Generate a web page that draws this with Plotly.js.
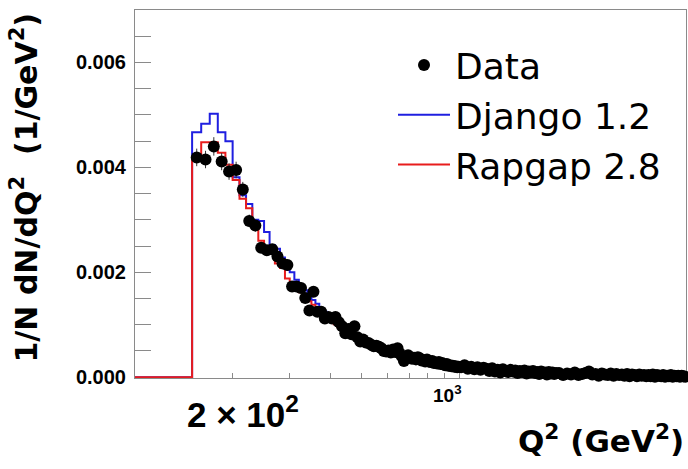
<!DOCTYPE html>
<html>
<head>
<meta charset="utf-8">
<script src="https://cdn.plot.ly/plotly-3.0.1.min.js"></script>
<style>html,body{margin:0;padding:0;background:#fff;}#chart{width:688px;height:469px;}</style>
</head>
<body>
<div id="chart"></div>
<script>
// Data: bin centres (Q^2, GeV^2) and values of 1/N dN/dQ^2 in units of 1e-3 GeV^-2
const dataQ = [155,165,175,185,195,205,215,225,235,245,255,265,275,285,295,305,315,325,335,345,355,365,375,385,395,405,415,425,435,445,455,465,475,485,495,505,515,525,535,545,555,565,575,585,595,605,615,625,635,645,655,665,675,685,695,705,715,725,735,745,755,765,775,785,795,805,815,825,835,845,855,865,875,885,895,905,915,925,935,945,955,965,975,985,995,
1012.5,1037.5,1062.5,1087.5,1112.5,1137.5,1162.5,1187.5,1212.5,1237.5,1262.5,1287.5,1312.5,1337.5,1362.5,1387.5,1412.5,1437.5,1462.5,1487.5,1512.5,1537.5,1562.5,1587.5,1612.5,1637.5,1662.5,1687.5,1712.5,1737.5,1762.5,1787.5,1812.5,1837.5,1862.5,1887.5,1912.5,1937.5,1962.5,1987.5,
2030,2090,2150,2210,2270,2330,2390,2450,2510,2570,2630,2690,2750,2810,2870,2930,2990,3050,3110,3170,3230,3290,3350,3410,3470,3530,3590,3650,3710,3770,3830,3890,3950,4010,4070,4130,4190,4250,4310,4370,4430,4490,4550,4610,4670,4730,4790,4850,4910,4970];
const dataVal = [4.19,4.15,4.40,4.11,3.92,3.95,3.58,2.98,2.89,2.47,2.42,2.44,2.30,2.17,2.14,1.73,1.73,1.70,1.51,1.27,1.63,1.25,1.25,1.12,1.15,1.12,1.15,1.05,0.97,0.84,0.92,0.82,0.97,0.76,0.68,0.72,0.66,0.65,0.62,0.59,0.60,0.58,0.55,0.50,0.49,0.51,0.47,0.53,0.48,0.55,0.45,0.40,0.31,0.37,0.42,0.38,0.35,0.37,0.34,0.38,0.36,0.32,0.33,0.30,0.34,0.30,0.29,0.31,0.27,0.28,0.26,0.29,0.25,0.27,0.24,0.23,0.25,0.22,0.23,0.21,0.22,0.20,0.21,0.19,0.20,
0.19,0.23,0.16,0.20,0.15,0.19,0.14,0.18,0.16,0.12,0.17,0.11,0.14,0.09,0.15,0.12,0.10,0.14,0.11,0.13,0.08,0.12,0.10,0.13,0.07,0.11,0.09,0.12,0.08,0.10,0.06,0.11,0.08,0.09,0.05,0.10,0.07,0.09,0.06,0.08,
0.08,0.04,0.07,0.05,0.09,0.04,0.06,0.08,0.11,0.05,0.06,0.03,0.07,0.05,0.04,0.07,0.03,0.06,0.04,0.05,0.03,0.06,0.02,0.05,0.04,0.02,0.05,0.03,0.04,0.02,0.04,0.02,0.05,0.01,0.04,0.03,0.02,0.04,0.01,0.03,0.02,0.04,0.01,0.03,0.02,0.03,0.01,0.03,0.02,0.01];

// Model histograms: lower bin edges (GeV^2), histogram range 100..5000
const histLow = 100, histHigh = 5000;
const modelEdges = [150,160,170,180,190,200,210,220,230,240,250,260,270,280,290,300,310,320,330,340,350,360,370,380,390,400,410,420,430,440,450,460,470,480,490,500,510,520,530,540,550,560,570,580,590,
600,650,700,750,800,850,900,950,1000,1250,1500,1750,2000,2500,3000,3500,4000,4500];
const djangoVal = [4.67,4.83,5.02,4.67,4.50,3.81,3.47,3.30,3.00,2.98,2.77,2.52,2.45,2.28,2.05,2.00,1.86,1.76,1.66,1.56,1.47,1.40,1.32,1.25,1.18,1.12,1.06,1.01,0.96,0.91,0.87,0.83,0.79,0.76,0.72,0.69,0.66,0.64,0.61,0.59,0.56,0.54,0.52,0.50,0.48,
0.46,0.41,0.37,0.34,0.31,0.28,0.25,0.23,0.18,0.13,0.10,0.08,0.065,0.05,0.04,0.034,0.028,0.024];
const rapgapVal = [4.17,4.48,4.48,4.28,4.05,3.76,3.40,3.22,2.95,2.60,2.50,2.38,2.17,2.08,1.88,1.80,1.70,1.62,1.54,1.45,1.38,1.32,1.25,1.18,1.12,1.07,1.01,0.96,0.92,0.87,0.83,0.79,0.76,0.72,0.69,0.66,0.63,0.61,0.59,0.56,0.54,0.52,0.50,0.48,0.46,
0.44,0.40,0.36,0.33,0.30,0.27,0.25,0.23,0.17,0.125,0.095,0.075,0.06,0.047,0.038,0.032,0.027,0.023];

const seriesNames = ["Data", "Django 1.2", "Rapgap 2.8"];
const yTickVals = [0, 0.002, 0.004, 0.006];
const yTickText = ["0.000", "0.002", "0.004", "0.006"];
const xTickVals = [200,300,400,500,600,700,800,900,1000,2000,3000,4000];

const UNIT = 1e-3;
function stepX(edges){ return [histLow].concat(edges, [histHigh]); }
function stepY(vals){ const v = vals.map(a => a*UNIT); return [0].concat(v, [v[v.length-1]]); }

const traces = [
  {x: stepX(modelEdges), y: stepY(djangoVal), name: seriesNames[1], type: 'scatter', mode: 'lines',
   line: {shape: 'hv', color: '#1f1fe0', width: 2}, legendrank: 2},
  {x: stepX(modelEdges), y: stepY(rapgapVal), name: seriesNames[2], type: 'scatter', mode: 'lines',
   line: {shape: 'hv', color: '#e81c1c', width: 2}, legendrank: 3},
  {x: dataQ, y: dataVal.map(a => a*UNIT), name: seriesNames[0], type: 'scatter', mode: 'markers',
   marker: {color: '#000', size: 12}, cliponaxis: false,
   error_y: {type: 'percent', value: 4, color: '#333', thickness: 1, width: 0}, legendrank: 1}
];

const layout = {
  width: 688, height: 469,
  margin: {l: 135, r: 2, t: 10, b: 91, pad: 0},
  paper_bgcolor: '#fff', plot_bgcolor: '#fff',
  showlegend: true,
  legend: {x: (393-135)/551, y: 1 - (35-10)/368, xanchor: 'left', yanchor: 'top',
    font: {family: 'DejaVu Sans', size: 36, color: '#000'}, bgcolor: 'rgba(0,0,0,0)', itemwidth: 52, borderwidth: 0},
  xaxis: {type: 'log', range: [Math.log10(100), Math.log10(5000)], showgrid: false, zeroline: false,
    showline: true, linecolor: '#8a8a8a', linewidth: 1, mirror: true, layer: 'below traces',
    tickmode: 'array', tickvals: xTickVals, showticklabels: false,
    ticks: 'inside', ticklen: 5, tickcolor: '#8a8a8a', tickwidth: 1},
  yaxis: {range: [-0.000015, 0.007], showgrid: false, zeroline: false,
    showline: true, linecolor: '#8a8a8a', linewidth: 1, mirror: true, layer: 'below traces',
    tickvals: yTickVals, ticktext: yTickText, ticks: 'inside', ticklen: 16, tickcolor: '#8a8a8a', tickwidth: 1,
    ticklabelstandoff: 4,
    tickfont: {family: 'Liberation Sans, Arial', size: 20, weight: 'bold', color: '#000'},
    minor: {dtick: 0.0005, tick0: 0, ticks: 'inside', ticklen: 16, tickcolor: '#8a8a8a', tickwidth: 1, showgrid: false}},
  annotations: [
    {text: '2 × 10<sup>2</sup>', xref: 'paper', yref: 'paper', x: (243-135)/551, y: -(411-377.5)/368,
     xanchor: 'center', yanchor: 'middle', showarrow: false,
     font: {family: 'Liberation Sans, Arial', size: 35, weight: 'bold', color: '#000'}},
    {text: '10<sup>3</sup>', xref: 'paper', yref: 'paper', x: (447-135)/551, y: -(393-377.5)/368,
     xanchor: 'center', yanchor: 'middle', showarrow: false,
     font: {family: 'Liberation Sans, Arial', size: 19, weight: 'bold', color: '#000'}},
    {text: 'Q<sup>2</sup> (GeV<sup>2</sup>)', xref: 'paper', yref: 'paper', x: (686-135)/551, y: -(438-377.5)/368,
     xanchor: 'right', yanchor: 'middle', showarrow: false,
     font: {family: 'DejaVu Sans', size: 31, weight: 'bold', color: '#000'}},
    {text: '1/N dN/dQ<sup>2</sup>  (1/GeV<sup>2</sup>)', xref: 'paper', yref: 'paper', x: (25-135)/551, y: (377.5-187)/368,
     xanchor: 'center', yanchor: 'middle', showarrow: false, textangle: -90,
     font: {family: 'DejaVu Sans', size: 30, weight: 'bold', color: '#000'}}
  ]
};

Plotly.newPlot('chart', traces, layout, {staticPlot: true, displayModeBar: false});
</script>
</body>
</html>
